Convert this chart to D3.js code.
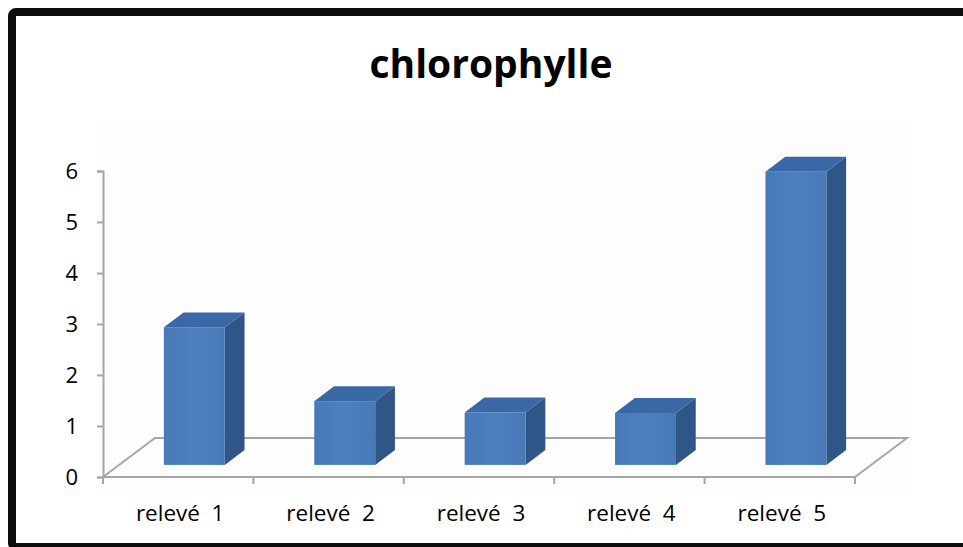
<!DOCTYPE html>
<html>
<head>
<meta charset="utf-8">
<script src="https://cdn.jsdelivr.net/npm/d3@7"></script>
<style>
  body { margin: 0; background: #fff; }
  svg { display: block; }
</style>
</head>
<body>
<svg id="chart" width="963" height="547"></svg>
<script>
// data
const categories = ['relevé  1', 'relevé  2', 'relevé  3', 'relevé  4', 'relevé  5']
const values = [2.7, 1.25, 1.03, 1.02, 5.75]
const yTicks = [0, 1, 2, 3, 4, 5, 6]
const title = 'chlorophylle'

const svg = d3.select('#chart')

// front edge of the floor, and the oblique depth vector
const x0 = 103, x1 = 855
const depth = [52, -39]

const x = d3.scaleBand()
  .domain(categories)
  .range([x0, x1])
  .paddingInner(0)

const y = d3.scaleLinear()
  .domain([0, 6])
  .range([477, 171])

// frame
svg.append('rect')
  .attr('x', 12).attr('y', 12)
  .attr('width', 1000).attr('height', 535)
  .attr('rx', 4)
  .attr('fill', '#fff')
  .attr('stroke', '#0d0d0d')
  .attr('stroke-width', 8)

// faint plot area
svg.append('rect')
  .attr('x', 97).attr('y', 123)
  .attr('width', 815).attr('height', 368)
  .attr('fill', '#fdfdfd')

svg.append('text')
  .attr('x', 491)
  .attr('y', 78)
  .attr('text-anchor', 'middle')
  .style('font-family', '"Open Sans", sans-serif')
  .style('font-weight', 'bold')
  .style('font-size', '39px')
  .text(title)

// floor
const floorG = svg.append('g')
  .attr('fill', 'none')
  .attr('stroke', '#a6a6a6')
  .attr('stroke-width', 2)
const y0 = y(0)
floorG.append('path')
  .attr('d', d3.line()([
    [x0, y0], [x0 + depth[0], y0 + depth[1]],
    [x1 + depth[0], y0 + depth[1]], [x1, y0]
  ]))

// y axis
const yAxis = svg.append('g')
  .attr('transform', `translate(${x0},0)`)
  .call(d3.axisLeft(y).tickValues(yTicks).tickSize(6).tickPadding(19).tickFormat(d3.format('d')))
yAxis.select('.domain').attr('stroke', '#a6a6a6').attr('stroke-width', 2)
yAxis.selectAll('.tick line').attr('stroke', '#a6a6a6').attr('stroke-width', 2)
yAxis.selectAll('.tick text')
  .attr('fill', '#000')
  .style('font-family', '"Open Sans", sans-serif')
  .style('font-size', '22px')

// x axis (front edge) with ticks at band boundaries
const xAxis = svg.append('g')
  .attr('transform', `translate(0,${y0})`)
xAxis.append('line')
  .attr('x1', x0).attr('x2', x1)
  .attr('stroke', '#a6a6a6').attr('stroke-width', 2)
xAxis.selectAll('.bnd')
  .data(categories.map(c => x(c)).concat([x1]))
  .join('line')
  .attr('x1', d => d).attr('x2', d => d)
  .attr('y1', 0).attr('y2', 7)
  .attr('stroke', '#a6a6a6').attr('stroke-width', 2)
xAxis.selectAll('text')
  .data(categories)
  .join('text')
  .attr('x', d => x(d) + x.bandwidth() / 2 + 2)
  .attr('y', 44)
  .attr('text-anchor', 'middle')
  .style('white-space', 'pre')
  .style('font-family', '"Open Sans", sans-serif')
  .style('font-size', '22.5px')
  .text(d => d)

// 3d bars
const defs = svg.append('defs')
const grad = defs.append('linearGradient').attr('id', 'front').attr('x1', 0).attr('x2', 1)
grad.append('stop').attr('offset', '0%').attr('stop-color', '#4879b7')
grad.append('stop').attr('offset', '50%').attr('stop-color', '#4c80c0')
grad.append('stop').attr('offset', '100%').attr('stop-color', '#4879b7')

const barW = x.bandwidth() * 0.405
const fr = 0.31, dp = 0.38
const off = [depth[0] * fr, depth[1] * fr]
const bd = [depth[0] * dp, depth[1] * dp]

const bars = svg.append('g').selectAll('g')
  .data(values)
  .join('g')

bars.each(function (v, i) {
  const g = d3.select(this)
  const left = x(categories[i]) + (x.bandwidth() - barW) / 2 + off[0]
  const right = left + barW
  const top = y(v) + off[1]
  const bottom = y(0) + off[1]
  // side
  g.append('path')
    .attr('d', d3.line()([[right, bottom], [right, top], [right + bd[0], top + bd[1]], [right + bd[0], bottom + bd[1]]]))
    .attr('fill', '#2f5687')
  // top
  g.append('path')
    .attr('d', d3.line()([[left, top], [right, top], [right + bd[0], top + bd[1]], [left + bd[0], top + bd[1]]]))
    .attr('fill', '#3a68a5')
  // front
  g.append('rect')
    .attr('x', left).attr('y', top)
    .attr('width', barW).attr('height', bottom - top)
    .attr('fill', 'url(#front)')
})
</script>
</body>
</html>
